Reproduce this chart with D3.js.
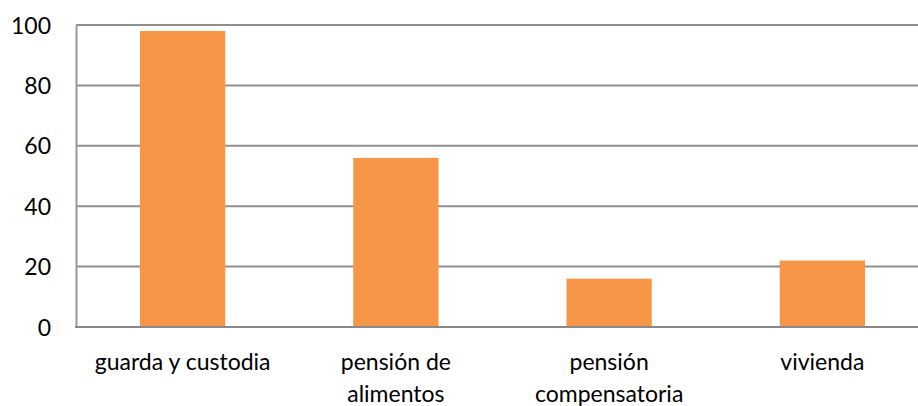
<!DOCTYPE html>
<html lang="es">
<head>
<meta charset="UTF-8">
<title>Bar chart</title>
<style>
    body { margin: 0; background: #fff; }
    text { font-family: Lato, "Noto Sans", sans-serif; fill: #000; }
</style>
</head>
<body>
<div id="chart"></div>
<script src="https://cdnjs.cloudflare.com/ajax/libs/d3/7.8.5/d3.min.js"></script>
<script>
    const categories = [['guarda y custodia'], ['pensión de', 'alimentos'], ['pensión', 'compensatoria'], ['vivienda']];
    const values = [98, 56, 16, 22];
    const yTicks = [0, 20, 40, 60, 80, 100];

    const width = 918, height = 406;
    const margin = { top: 25, right: -11, bottom: 79, left: 76 };

    const svg = d3.select('#chart').append('svg')
        .attr('width', width)
        .attr('height', height);

    const x = d3.scaleBand()
        .domain(d3.range(categories.length))
        .range([margin.left, width - margin.right])
        .padding(0);

    const y = d3.scaleLinear()
        .domain([0, 100])
        .range([height - margin.bottom, margin.top]);

    // gridlines
    svg.append('g')
        .selectAll('line')
        .data(yTicks.filter(d => d > 0))
        .join('line')
          .attr('x1', margin.left)
          .attr('x2', width)
          .attr('y1', d => y(d))
          .attr('y2', d => y(d))
          .attr('stroke', '#8f8f8f')
          .attr('stroke-width', 2);

    // bars
    const barW = x.bandwidth() * 0.4;
    svg.append('g')
        .selectAll('rect')
        .data(values)
        .join('rect')
          .attr('x', (d, i) => x(i) + (x.bandwidth() - barW) / 2)
          .attr('y', d => y(d))
          .attr('width', barW)
          .attr('height', d => y(0) - y(d))
          .attr('fill', '#F79646');

    // y axis
    const yAxis = d3.axisLeft(y).tickValues(yTicks).tickSize(0).tickPadding(25);
    const gy = svg.append('g')
        .attr('transform', `translate(${margin.left},0)`)
        .call(yAxis);
    gy.select('.domain').attr('stroke', '#9a9a9a').attr('stroke-width', 2);
    gy.selectAll('text').style('font-size', '23px').attr('dy', '0.35em');

    // x axis
    svg.append('line')
        .attr('x1', margin.left - 1)
        .attr('x2', width)
        .attr('y1', y(0))
        .attr('y2', y(0))
        .attr('stroke', '#888')
        .attr('stroke-width', 2);

    const labels = svg.append('g')
        .selectAll('text')
        .data(categories)
        .join('text')
          .attr('text-anchor', 'middle')
          .attr('x', (d, i) => x(i) + x.bandwidth() / 2)
          .attr('y', y(0) + 43)
          .style('font-size', '23px');

    labels.selectAll('tspan')
        .data(d => d)
        .join('tspan')
          .attr('x', function () { return this.parentNode.getAttribute('x'); })
          .attr('dy', (d, i) => i === 0 ? 0 : 32)
          .text(d => d);
</script>
</body>
</html>
